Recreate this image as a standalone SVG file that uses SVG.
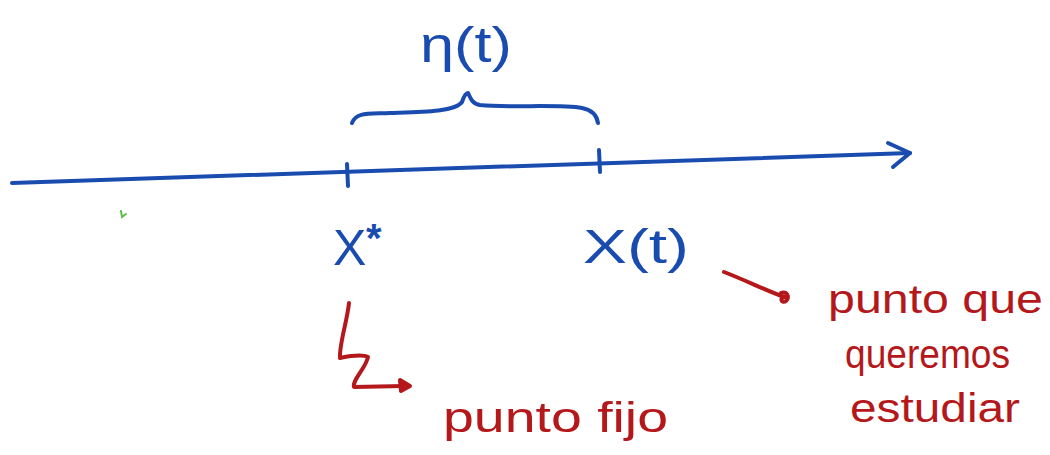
<svg xmlns="http://www.w3.org/2000/svg" width="1050" height="455" viewBox="0 0 1050 455">
<style>
.b{fill:none;stroke:#1a4cb0;stroke-width:4;stroke-linecap:round;stroke-linejoin:round}
.r{fill:none;stroke:#b5181b;stroke-width:4;stroke-linecap:round;stroke-linejoin:round}
.bt{fill:#1a4cb0;font-family:"Liberation Sans",Arial,sans-serif}
.rt{fill:#b5181b;font-family:"Liberation Sans",Arial,sans-serif}
</style>
<rect width="1050" height="455" fill="#ffffff"/>
<g id="connectors">
<path class="b" d="M12,183 L910,153"/>
<path class="b" d="M888,143 L910,153 L893,167"/>
<path class="r" d="M349,303 C347,322 339,345 340,358 C350,356 362,354 368,357 C366,368 352,380 354,387 L404,386"/>
<path class="r" d="M400,380 L410,386 L401,391 Z"/>
<path class="r" d="M724,272 C745,280 765,290 784,297"/>
<path class="r" d="M781,293 C787,291 790,297 786,301 C782,304 779,298 784,297"/>
</g>
<g id="axis-ticks">
<path class="b" d="M347,164 L348,186"/>
<path class="b" d="M599,150 L600,172"/>
</g>
<g id="brace">
<path class="b" d="M352,123 C356,112 368,114 390,113 C420,112 455,112 462,102 C464,96 466,93 468,93 C470,97 472,104 480,105 C510,108 560,104 582,108 C592,110 597,116 598,123"/>
</g>
<g id="eta">
<text class="bt" x="420" y="62" font-size="50" textLength="92" lengthAdjust="spacingAndGlyphs">η(t)</text>
</g>
<g id="xstar">
<text class="bt" x="333" y="265" font-size="50">X</text>
<text class="bt" x="366" y="252" font-size="40" font-weight="bold">*</text>
</g>
<g id="xt">
<text class="bt" x="583" y="263" font-size="48" textLength="106" lengthAdjust="spacingAndGlyphs">X(t)</text>
</g>
<g id="punto-fijo">
<text class="rt" x="443" y="432" font-size="42" textLength="225" lengthAdjust="spacingAndGlyphs">punto fijo</text>
</g>
<g id="punto-que">
<text class="rt" x="828" y="313" font-size="40" textLength="215" lengthAdjust="spacingAndGlyphs">punto que</text>
<text class="rt" x="845" y="368" font-size="40" textLength="165" lengthAdjust="spacingAndGlyphs">queremos</text>
<text class="rt" x="850" y="422" font-size="40" textLength="170" lengthAdjust="spacingAndGlyphs">estudiar</text>
</g>
<g id="mark">
<path d="M121,211 L122,217 L126,214" fill="none" stroke="#5cbf4a" stroke-width="2" stroke-linecap="round"/>
</g>
</svg>
